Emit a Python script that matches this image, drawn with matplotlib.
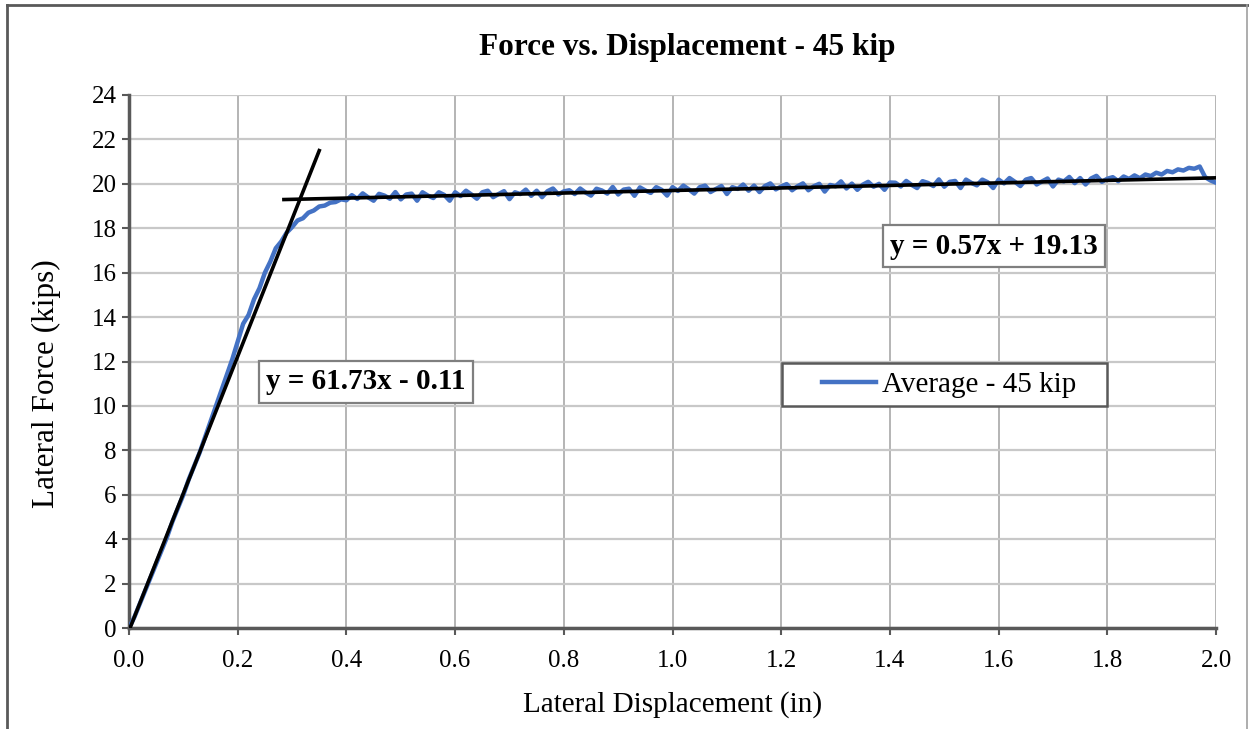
import matplotlib
matplotlib.use("Agg")
import matplotlib.pyplot as plt
from matplotlib.lines import Line2D
from matplotlib.patches import Rectangle
import numpy as np

plt.rcParams['font.family'] = ['Liberation Serif', 'DejaVu Serif']

# Averaged lateral force record (kips) against lateral displacement (in)
displacement = [
    0.00, 0.01, 0.02, 0.03, 0.04, 0.05, 0.06, 0.07, 0.08, 0.09,
    0.10, 0.11, 0.12, 0.13, 0.14, 0.15, 0.16, 0.17, 0.18, 0.19,
    0.20, 0.21, 0.22, 0.23, 0.24, 0.25, 0.26, 0.27, 0.28, 0.29,
    0.30, 0.31, 0.32, 0.33, 0.34, 0.35, 0.36, 0.37, 0.38, 0.39,
    0.40, 0.41, 0.42, 0.43, 0.44, 0.45, 0.46, 0.47, 0.48, 0.49,
    0.50, 0.51, 0.52, 0.53, 0.54, 0.55, 0.56, 0.57, 0.58, 0.59,
    0.60, 0.61, 0.62, 0.63, 0.64, 0.65, 0.66, 0.67, 0.68, 0.69,
    0.70, 0.71, 0.72, 0.73, 0.74, 0.75, 0.76, 0.77, 0.78, 0.79,
    0.80, 0.81, 0.82, 0.83, 0.84, 0.85, 0.86, 0.87, 0.88, 0.89,
    0.90, 0.91, 0.92, 0.93, 0.94, 0.95, 0.96, 0.97, 0.98, 0.99,
    1.00, 1.01, 1.02, 1.03, 1.04, 1.05, 1.06, 1.07, 1.08, 1.09,
    1.10, 1.11, 1.12, 1.13, 1.14, 1.15, 1.16, 1.17, 1.18, 1.19,
    1.20, 1.21, 1.22, 1.23, 1.24, 1.25, 1.26, 1.27, 1.28, 1.29,
    1.30, 1.31, 1.32, 1.33, 1.34, 1.35, 1.36, 1.37, 1.38, 1.39,
    1.40, 1.41, 1.42, 1.43, 1.44, 1.45, 1.46, 1.47, 1.48, 1.49,
    1.50, 1.51, 1.52, 1.53, 1.54, 1.55, 1.56, 1.57, 1.58, 1.59,
    1.60, 1.61, 1.62, 1.63, 1.64, 1.65, 1.66, 1.67, 1.68, 1.69,
    1.70, 1.71, 1.72, 1.73, 1.74, 1.75, 1.76, 1.77, 1.78, 1.79,
    1.80, 1.81, 1.82, 1.83, 1.84, 1.85, 1.86, 1.87, 1.88, 1.89,
    1.90, 1.91, 1.92, 1.93, 1.94, 1.95, 1.96, 1.97, 1.98, 1.99,
    2.00,
]
force = [
    0.00, 0.50, 1.10, 1.70, 2.30, 2.90, 3.50, 4.10, 4.80, 5.40,
    6.00, 6.70, 7.30, 7.90, 8.60, 9.30, 10.00, 10.70, 11.40, 12.10,
    12.90, 13.70, 14.10, 14.80, 15.30, 16.00, 16.50, 17.10, 17.40, 17.80,
    18.05, 18.35, 18.45, 18.70, 18.80, 18.98, 19.02, 19.15, 19.18, 19.30,
    19.26, 19.49, 19.32, 19.57, 19.39, 19.24, 19.55, 19.47, 19.33, 19.63,
    19.30, 19.52, 19.56, 19.24, 19.62, 19.47, 19.36, 19.62, 19.50, 19.24,
    19.62, 19.45, 19.69, 19.52, 19.33, 19.62, 19.69, 19.40, 19.54, 19.67,
    19.31, 19.62, 19.54, 19.74, 19.46, 19.69, 19.40, 19.67, 19.79, 19.52,
    19.66, 19.71, 19.54, 19.79, 19.61, 19.47, 19.78, 19.70, 19.56, 19.86,
    19.52, 19.74, 19.78, 19.46, 19.84, 19.70, 19.59, 19.85, 19.73, 19.47,
    19.85, 19.68, 19.92, 19.75, 19.56, 19.85, 19.92, 19.63, 19.77, 19.90,
    19.54, 19.85, 19.77, 19.97, 19.69, 19.92, 19.63, 19.90, 20.02, 19.75,
    19.88, 19.99, 19.71, 19.89, 20.02, 19.71, 19.89, 20.00, 19.65, 19.95,
    19.89, 20.11, 19.79, 20.01, 19.73, 19.96, 20.09, 19.87, 20.00, 19.73,
    20.06, 20.05, 19.88, 20.13, 19.95, 19.81, 20.12, 20.04, 19.90, 20.20,
    19.87, 20.09, 20.13, 19.81, 20.19, 20.04, 19.93, 20.19, 20.07, 19.81,
    20.19, 20.02, 20.26, 20.09, 19.90, 20.19, 20.26, 19.97, 20.11, 20.24,
    19.88, 20.19, 20.11, 20.31, 20.03, 20.26, 19.97, 20.24, 20.36, 20.09,
    20.23, 20.30, 20.12, 20.33, 20.22, 20.38, 20.25, 20.42, 20.35, 20.50,
    20.42, 20.58, 20.52, 20.65, 20.60, 20.72, 20.68, 20.78, 20.30, 20.15,
    20.05,
]

# Linear fits: elastic branch and post-yield branch
elastic_slope, elastic_icpt = 61.73, -0.11
elastic_range = [0.0, 0.35]
plastic_slope, plastic_icpt = 0.57, 19.13
plastic_range = [0.285, 2.0]

x_ticks = [0.0, 0.2, 0.4, 0.6, 0.8, 1.0, 1.2, 1.4, 1.6, 1.8, 2.0]
y_ticks = [0, 2, 4, 6, 8, 10, 12, 14, 16, 18, 20, 22, 24]

W, H = 1249, 729
fig = plt.figure(figsize=(W / 100, H / 100), dpi=100)
ax = fig.add_axes([0.1033, 0.1385, 0.8703, 0.7312])

ax.plot(displacement, force, color='#4472C4', lw=3.2, label='Average - 45 kip',
        solid_joinstyle='round', zorder=3)

xe = np.array(elastic_range)
ax.plot(xe, elastic_slope * xe + elastic_icpt, color='black', lw=2.6, zorder=4)
xp = np.array(plastic_range)
ax.plot(xp, plastic_slope * xp + plastic_icpt, color='black', lw=2.6, zorder=4)

ax.set_xlim(0, 2.0)
ax.set_ylim(0, 24)
ax.set_xticks(x_ticks)
ax.set_xticklabels([f'{v:.1f}' for v in x_ticks])
ax.set_yticks(y_ticks)
ax.tick_params(axis='both', labelsize=18, length=5, width=1.5, color='#595959',
               direction='out')
ax.tick_params(axis='x', pad=11)
ax.tick_params(axis='y', pad=4)

ax.grid(True, axis='y', color='#c8c8c8', lw=1.6)
ax.grid(True, axis='x', color='#a0a0a0', lw=1.1)
ax.set_axisbelow(True)
for s in ['top', 'right']:
    ax.spines[s].set_visible(False)
for s in ['left', 'bottom']:
    ax.spines[s].set_color('#595959')
    ax.spines[s].set_linewidth(2.5)

ax.set_xlabel('Lateral Displacement (in)', fontsize=21)
ax.xaxis.set_label_coords(0.5, -(704 - 628) / 533, transform=ax.transAxes)
ax.xaxis.label.set_va('center')
ax.set_ylabel('Lateral Force (kips)', fontsize=22.5)
ax.yaxis.set_label_coords(-(129 - 46) / 1087, (628 - 384) / 533, transform=ax.transAxes)
ax.yaxis.label.set_va('center')
fig.text(687 / W, 1 - 47 / H, 'Force vs. Displacement - 45 kip', fontsize=22.5,
         fontweight='bold', ha='center', va='center')

box = dict(boxstyle='square,pad=0.25', facecolor='white', edgecolor='#7f7f7f', lw=1.6)
ax.text(0.436, 11.08, f'y = {elastic_slope:.2f}x - {abs(elastic_icpt):.2f}',
        fontsize=21, fontweight='bold', ha='center', va='center', bbox=box, zorder=5)
ax.text(1.592, 17.2, f'y = {plastic_slope:.2f}x + {plastic_icpt:.2f}',
        fontsize=21, fontweight='bold', ha='center', va='center', bbox=box, zorder=5)

# Legend frame drawn as its own rectangle, entries placed inside it
ax.add_patch(Rectangle((0.6007, 0.4165), 0.299, 0.0807, transform=ax.transAxes,
                       facecolor='white', edgecolor='#595959', lw=1.8, zorder=5))
leg = ax.legend(loc='center left', bbox_to_anchor=(0.6376, 0.4568), fontsize=21,
                frameon=False, handlelength=1.85, handletextpad=0.2,
                borderpad=0, borderaxespad=0)
leg.set_zorder(6)

# Outer chart frame
fig.add_artist(Line2D([7 / W, 7 / W], [0, 1 - 5 / H], transform=fig.transFigure,
                      color='#595959', lw=2))
fig.add_artist(Line2D([7 / W, 1], [1 - 5 / H, 1 - 5 / H], transform=fig.transFigure,
                      color='#595959', lw=2))
fig.add_artist(Line2D([1247 / W, 1247 / W], [0, 1 - 5 / H], transform=fig.transFigure,
                      color='#a0a0a0', lw=1.2))

fig.savefig('out.png', dpi=100)
